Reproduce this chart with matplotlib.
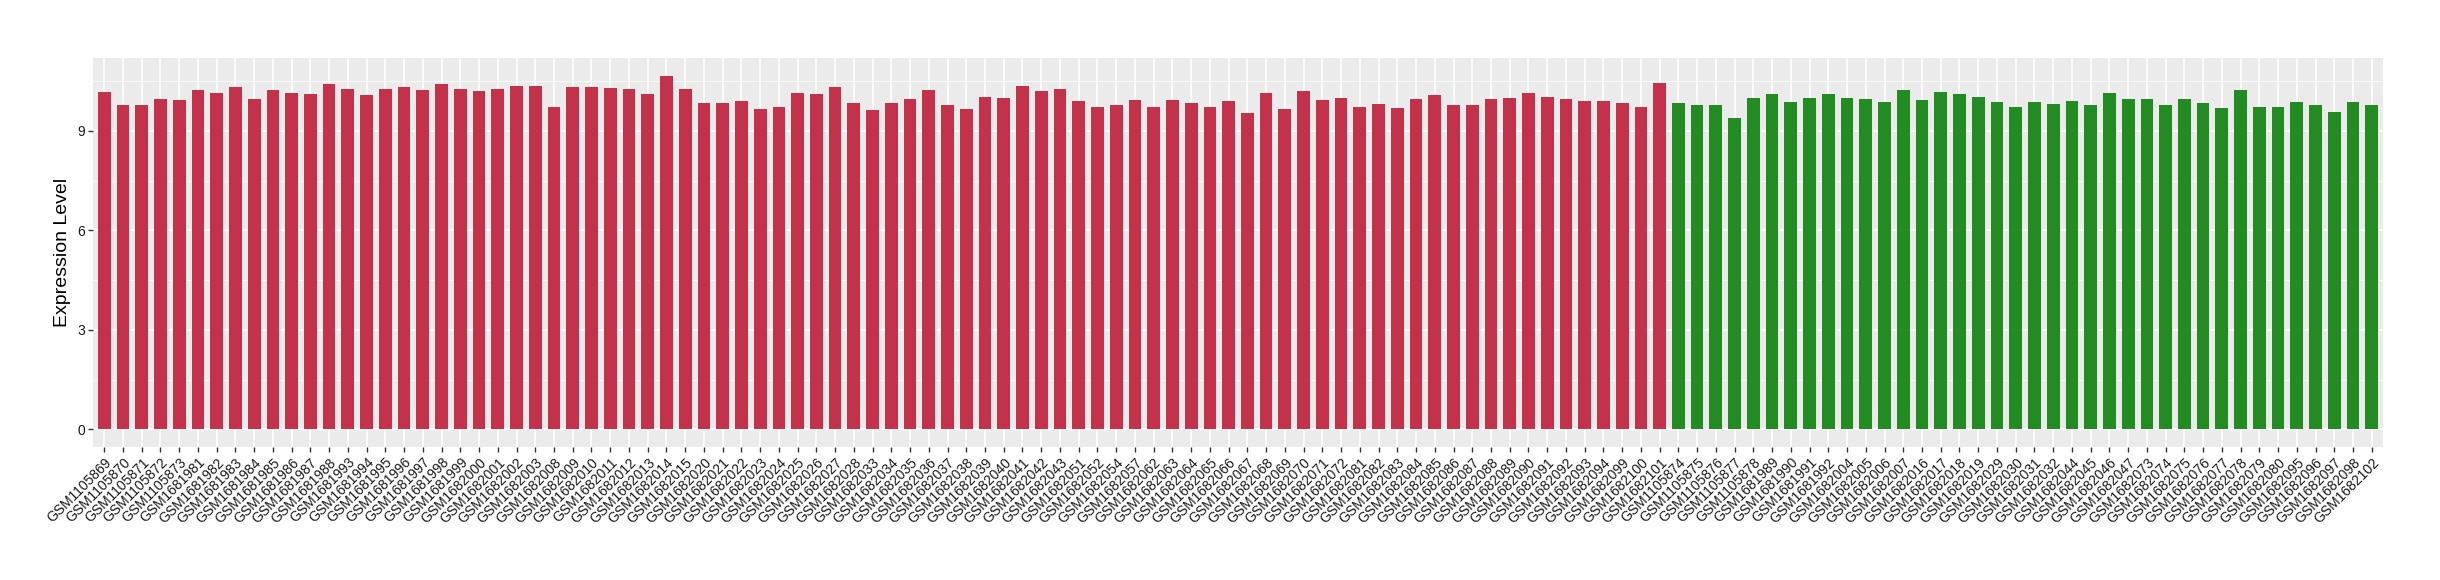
import matplotlib
matplotlib.use("Agg")
import matplotlib.pyplot as plt
import numpy as np

plt.rcParams['font.family'] = ['Liberation Sans', 'DejaVu Sans']

red_ids = [
    "1105869", "1105870", "1105871", "1105872", "1105873",
    "1681981", "1681982", "1681983", "1681984", "1681985", "1681986", "1681987", "1681988",
    "1681993", "1681994", "1681995", "1681996", "1681997", "1681998", "1681999",
    "1682000", "1682001", "1682002", "1682003", "1682008", "1682009", "1682010", "1682011",
    "1682012", "1682013", "1682014", "1682015", "1682020", "1682021", "1682022", "1682023",
    "1682024", "1682025", "1682026", "1682027", "1682028", "1682033", "1682034", "1682035",
    "1682036", "1682037", "1682038", "1682039", "1682040", "1682041", "1682042", "1682043",
    "1682051", "1682052", "1682054", "1682057", "1682062", "1682063", "1682064", "1682065",
    "1682066", "1682067", "1682068", "1682069", "1682070", "1682071", "1682072",
    "1682081", "1682082", "1682083", "1682084", "1682085", "1682086", "1682087", "1682088",
    "1682089", "1682090", "1682091", "1682092", "1682093", "1682094",
    "1682099", "1682100", "1682101",
]
red_values = [
    10.16, 9.77, 9.77, 9.95, 9.92, 10.25, 10.13, 10.33, 9.95, 10.22, 10.13, 10.10, 10.43,
    10.28, 10.07, 10.28, 10.33, 10.25, 10.43, 10.28, 10.19, 10.28, 10.37, 10.37, 9.73,
    10.33, 10.33, 10.30,
    10.28, 10.10, 10.67, 10.28, 9.83, 9.83, 9.89, 9.65, 9.73, 10.13, 10.10, 10.33, 9.83,
    9.62, 9.83, 9.95, 10.22, 9.77, 9.67, 10.03, 10.00, 10.37, 10.19, 10.28, 9.89, 9.73,
    9.77, 9.92, 9.73, 9.92, 9.83, 9.73,
    9.89, 9.53, 10.13, 9.65, 10.19, 9.92, 10.00, 9.73, 9.80, 9.70, 9.97, 10.07, 9.77,
    9.77, 9.95, 10.00, 10.13, 10.03, 9.95, 9.89, 9.89, 9.83, 9.73, 10.46,
]

green_ids = [
    "1105874", "1105875", "1105876", "1105877", "1105878",
    "1681989", "1681990", "1681991", "1681992",
    "1682004", "1682005", "1682006", "1682007", "1682016", "1682017", "1682018", "1682019",
    "1682029", "1682030", "1682031", "1682032", "1682044", "1682045", "1682046", "1682047",
    "1682073", "1682074", "1682075", "1682076", "1682077", "1682078", "1682079", "1682080",
    "1682095", "1682096", "1682097", "1682098", "1682102",
]
green_values = [
    9.83, 9.77, 9.77, 9.40, 10.00, 10.10, 9.86, 10.00, 10.10, 10.00, 9.97, 9.86, 10.25,
    9.92, 10.16, 10.10, 10.03, 9.86, 9.73, 9.86, 9.80, 9.89, 9.77, 10.13, 9.97, 9.95,
    9.77, 9.97, 9.83, 9.70, 10.25, 9.73, 9.73, 9.86, 9.77, 9.56, 9.86, 9.77,
]

labels = ["GSM" + s for s in red_ids + green_ids]
values = red_values + green_values
colors = ["#C3314A"] * len(red_ids) + ["#228B22"] * len(green_ids)

fig = plt.figure(figsize=(24.4, 5.8), dpi=100)
# panel box in pixels: x 93..2383, y 58..447 (from top)
ax = fig.add_axes([93 / 2440, 1 - 447 / 580, (2383 - 93) / 2440, (447 - 58) / 580])
ax.set_facecolor("#EBEBEB")

x = np.arange(len(values))
ax.bar(x, values, width=0.68, color=colors, zorder=3)

ax.set_xlim(-0.6, len(values) - 0.4)
ax.set_ylim(-0.53, 11.2)
ax.set_yticks([0, 3, 6, 9])
ax.set_yticks([1.5, 4.5, 7.5, 10.5], minor=True)
ax.set_xticks(x)
ax.set_xticklabels(labels, rotation=45, ha="right", va="top", rotation_mode="anchor",
                   fontsize=10, color="#1A1A1A")
ax.tick_params(axis="y", labelsize=10, labelcolor="#1A1A1A", color="#333333", length=3.5, width=1, pad=2)
ax.tick_params(axis="x", color="#333333", length=3.5, width=1, pad=2.5)
ax.tick_params(axis="y", which="minor", length=0)
ax.grid(True, which="major", color="white", linewidth=1.1, zorder=0)
ax.grid(True, which="minor", axis="y", color="white", linewidth=0.5, zorder=0)
for s in ax.spines.values():
    s.set_visible(False)

ax.set_ylabel("Expression Level", fontsize=14, labelpad=5)

fig.savefig("out.png", dpi=100)
